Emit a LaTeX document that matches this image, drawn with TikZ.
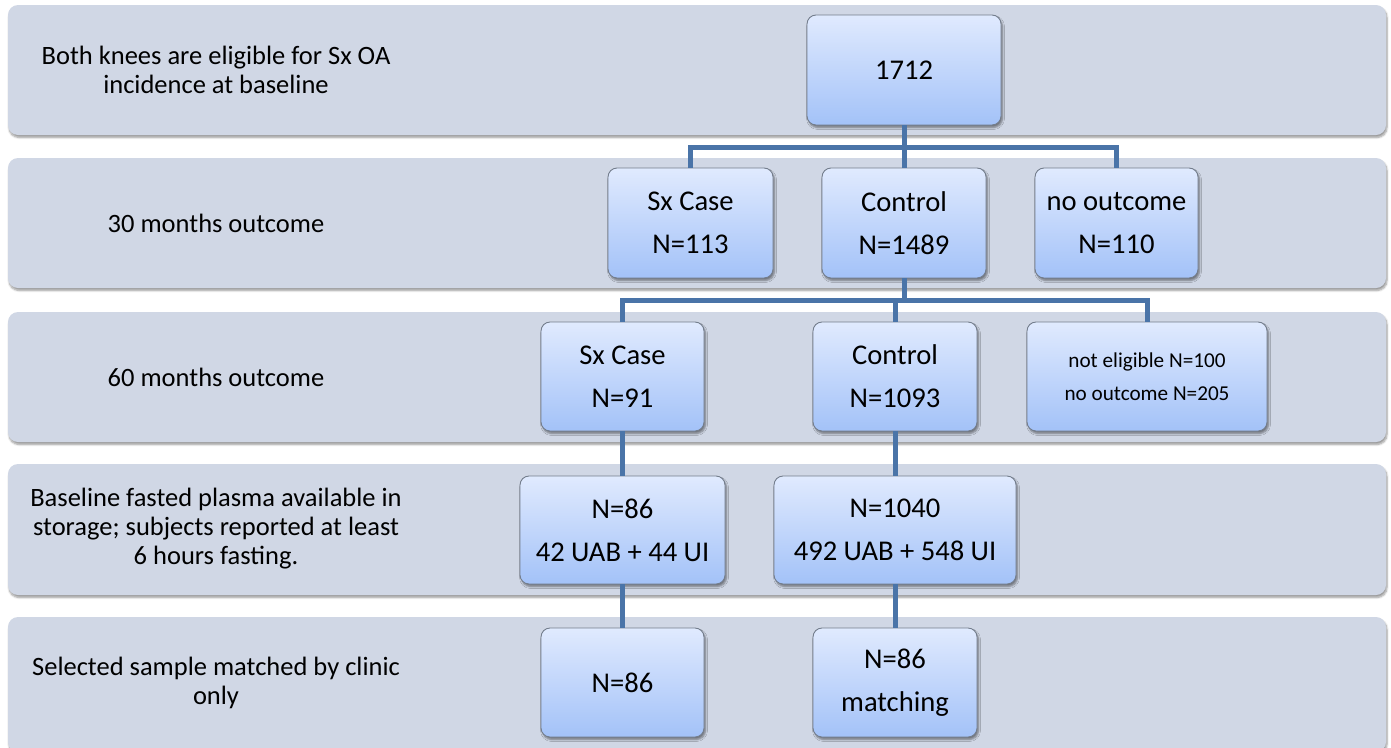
\documentclass[tikz,border=0pt]{standalone}
\usepackage{fontspec}
\setmainfont{Carlito}
\usetikzlibrary{shadows.blur}

\definecolor{bandfill}{HTML}{D0D7E5}
\definecolor{boxtop}{HTML}{E0EAFE}
\definecolor{boxbot}{HTML}{A3C2F8}
\definecolor{boxline}{HTML}{737D8C}
\definecolor{linkblue}{HTML}{4A74A8}

\newcommand\stagefont{\fontsize{26.5}{29}\selectfont}
\newcommand\countfont{\fontsize{28.6}{43}\selectfont}
\newcommand\notefont{\fontsize{21.2}{33}\selectfont}

\tikzset{
  band/.style={fill=bandfill, rounded corners=10pt,
    blur shadow={shadow xshift=1pt, shadow yshift=-2.5pt,
                 shadow blur steps=6, shadow opacity=40}},
  stagelabel/.style={align=center, font=\stagefont, inner sep=0pt},
  countbox/.style={draw=boxline, line width=0.9pt, rounded corners=9pt,
    top color=boxtop, bottom color=boxbot, align=center, font=\countfont,
    inner sep=0pt,
    blur shadow={shadow xshift=1.5pt, shadow yshift=-2.5pt,
                 shadow blur steps=5, shadow opacity=45}},
  link/.style={draw=linkblue, line width=5pt}
}

\begin{document}
\begin{tikzpicture}[x=1pt, y=-1pt]
  \useasboundingbox (0,0) rectangle (1391,747);

  % horizontal stage bands
  \path[band] (8,5)   rectangle (1386,135);
  \path[band] (8,158) rectangle (1386,288);
  \path[band] (8,312) rectangle (1386,442);
  \path[band] (8,464) rectangle (1386,595);
  \path[band] (8,617) rectangle (1386,752);

  % stage descriptions
  \node[stagelabel] (s1) at (216,70)  {Both knees are eligible for Sx OA\\incidence at baseline};
  \node[stagelabel] (s2) at (216,223) {30 months outcome};
  \node[stagelabel] (s3) at (216,377) {60 months outcome};
  \node[stagelabel] (s4) at (216,529) {Baseline fasted plasma available in\\storage; subjects reported at least\\6 hours fasting.};
  \node[stagelabel] (s5) at (216,683) {Selected sample matched by clinic\\only};

  % count boxes
  \node[countbox, minimum width=194pt, minimum height=110pt] (all) at (904,70) {1712};

  \node[countbox, minimum width=165pt, minimum height=110pt] (c30) at (690.5,223) {Sx Case\\N=113};
  \node[countbox, minimum width=164pt, minimum height=110pt] (k30) at (904,223) {Control\\N=1489};
  \node[countbox, minimum width=163pt, minimum height=110pt] (o30) at (1116.5,223) {no outcome\\N=110};

  \node[countbox, minimum width=163pt, minimum height=109pt] (c60) at (622.5,376.5) {Sx Case\\N=91};
  \node[countbox, minimum width=164pt, minimum height=109pt] (k60) at (895,376.5) {Control\\N=1093};
  \node[countbox, minimum width=240pt, minimum height=109pt, font=\notefont] (o60) at (1147,376.5) {not eligible N=100\\no outcome N=205};

  \node[countbox, minimum width=205pt, minimum height=108pt] (cpl) at (622.5,530) {N=86\\42 UAB + 44 UI};
  \node[countbox, minimum width=242pt, minimum height=108pt] (kpl) at (895,530) {N=1040\\492 UAB + 548 UI};

  \node[countbox, minimum width=163pt, minimum height=109pt] (csel) at (622.5,682.5) {N=86};
  \node[countbox, minimum width=164pt, minimum height=109pt] (ksel) at (895,682.5) {N=86\\matching};

  % connectors
  \coordinate (bus1) at (904,147);
  \coordinate (bus2) at (904,300);
  \draw[link] (all.south) -- (bus1);
  \draw[link] (c30.north) |- (bus1) -| (o30.north);
  \draw[link] (bus1) -- (k30.north);

  \draw[link] (k30.south) -- (bus2);
  \draw[link] (c60.north) |- (bus2) -| (o60.north);
  \draw[link] (k60.north) -- (k60.north |- bus2);

  \draw[link] (c60.south) -- (cpl.north);
  \draw[link] (k60.south) -- (kpl.north);
  \draw[link] (cpl.south) -- (csel.north);
  \draw[link] (kpl.south) -- (ksel.north);
\end{tikzpicture}
\end{document}
